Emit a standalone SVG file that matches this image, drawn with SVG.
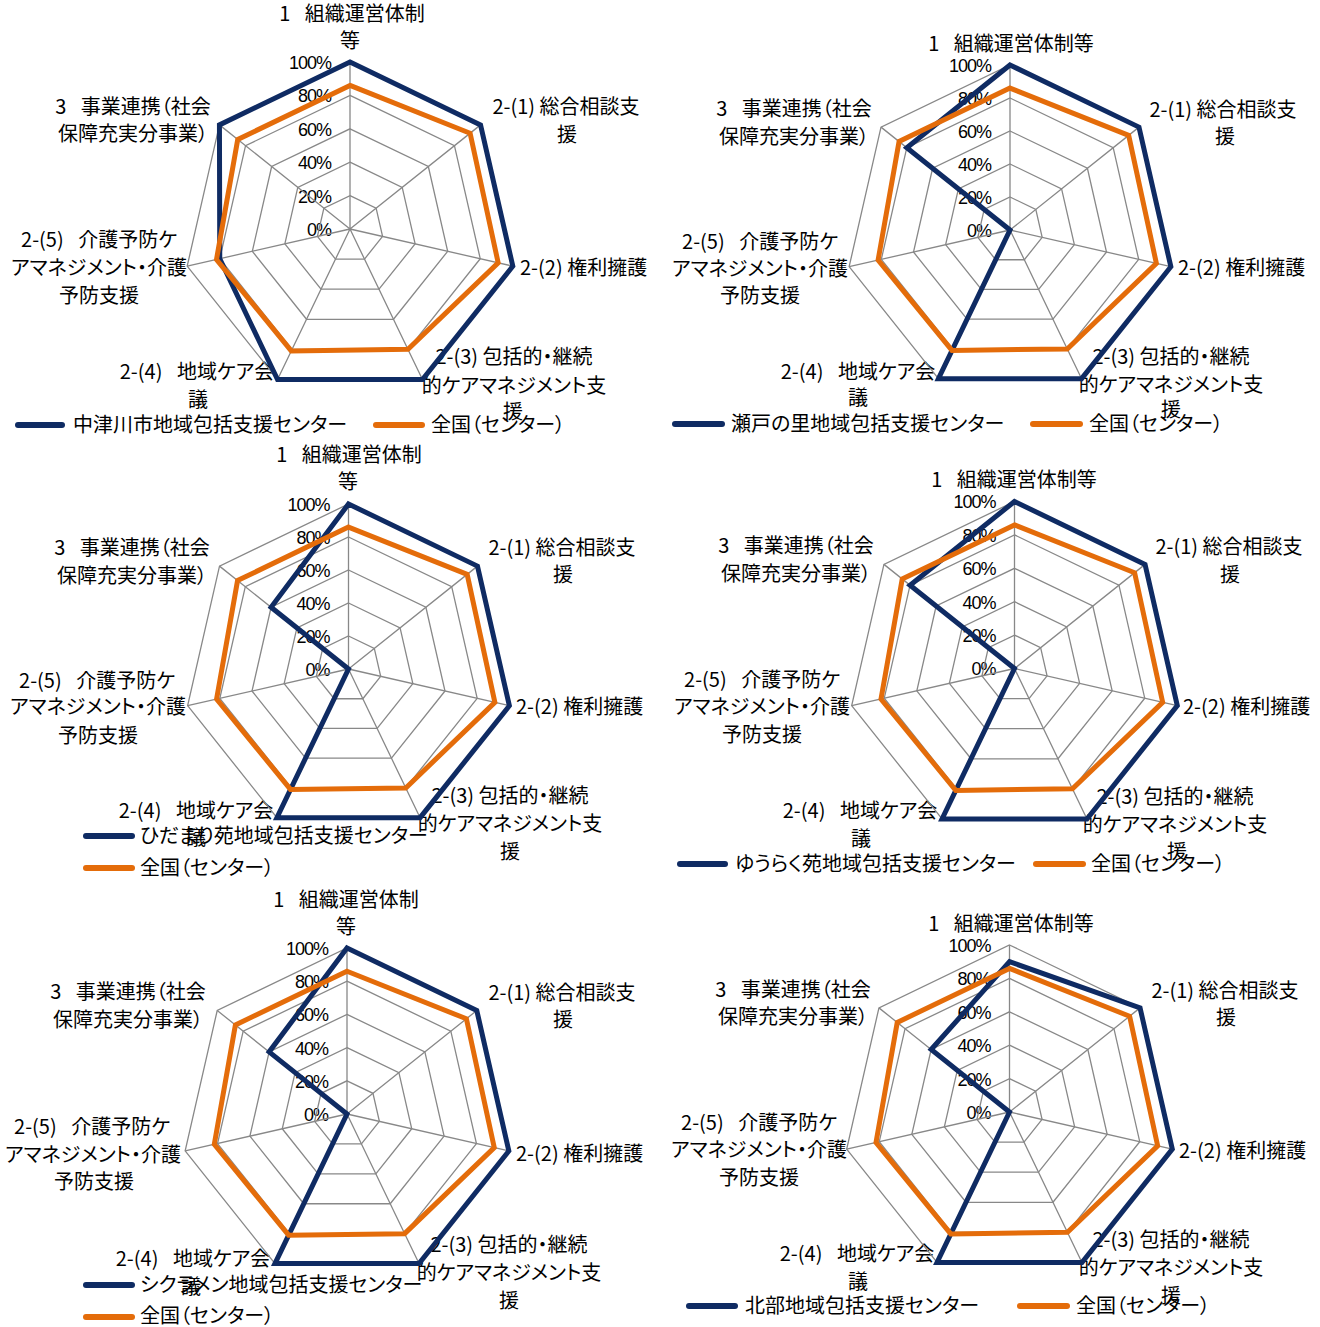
<svg xmlns="http://www.w3.org/2000/svg" xmlns:xlink="http://www.w3.org/1999/xlink" width="1320" height="1327" viewBox="0 0 1320 1327">
<style>
.lbl{font-family:"Noto Sans CJK JP","Noto Sans CJK SC",sans-serif;font-size:20px;fill:#000;font-feature-settings:"palt";text-anchor:middle}
.lg{font-family:"Noto Sans CJK JP","Noto Sans CJK SC",sans-serif;font-size:20px;fill:#000;font-feature-settings:"palt"}
.st{text-anchor:start}
.pct{font-family:"Liberation Sans",Arial,sans-serif;font-size:18px;fill:#000;text-anchor:end;letter-spacing:-1px}
.gl{fill:none;stroke:#888;stroke-width:1.3;vector-effect:non-scaling-stroke}
.s1{fill:none;stroke:#0f2b63;stroke-width:5;stroke-linejoin:miter;vector-effect:non-scaling-stroke}
.s2{fill:none;stroke:#e46c0a;stroke-width:5;stroke-linejoin:miter;vector-effect:non-scaling-stroke}
.ln1{stroke:#0f2b63;stroke-width:6;stroke-linecap:round}
.ln2{stroke:#e46c0a;stroke-width:6;stroke-linecap:round}
</style>
<defs>
<g id="grid">
<polygon class="gl" points="0,-100 78.18,-62.35 97.49,22.25 43.39,90.10 -43.39,90.10 -97.49,22.25 -78.18,-62.35"/>
<polygon class="gl" points="0,-80 62.54,-49.88 77.99,17.80 34.71,72.08 -34.71,72.08 -77.99,17.80 -62.54,-49.88"/>
<polygon class="gl" points="0,-60 46.91,-37.41 58.49,13.35 26.03,54.06 -26.03,54.06 -58.49,13.35 -46.91,-37.41"/>
<polygon class="gl" points="0,-40 31.27,-24.94 39.00,8.90 17.36,36.04 -17.36,36.04 -39.00,8.90 -31.27,-24.94"/>
<polygon class="gl" points="0,-20 15.64,-12.47 19.50,4.45 8.68,18.02 -8.68,18.02 -19.50,4.45 -15.64,-12.47"/>
<path class="gl" d="M0,0L0,-100M0,0L78.18,-62.35M0,0L97.49,22.25M0,0L43.39,90.10M0,0L-43.39,90.10M0,0L-97.49,22.25M0,0L-78.18,-62.35"/>
</g>
<polygon id="nat" class="s2" points="0,-86 71.93,-57.36 88.72,20.25 34.71,72.08 -35.15,72.98 -79.94,18.25 -67.23,-53.62"/>
</defs>

<!-- Chart 1 -->
<g id="chart1">
<g id="chart1-labels">
<text class="lbl" x="352" y="21">1 &#8194;組織運営体制</text>
<text class="lbl" x="350" y="48">等</text>
<text class="lbl" x="566" y="114">2-(1) 総合相談支</text>
<text class="lbl" x="567" y="142">援</text>
<text class="lbl st" x="520" y="275">2-(2) 権利擁護</text>
<text class="lbl" x="514" y="364">2-(3) 包括的・継続</text>
<text class="lbl" x="514" y="393">的ケアマネジメント支</text>
<text class="lbl" x="513" y="419">援</text>
<text class="lbl" x="197" y="379">2-(4) &#8194;地域ケア会</text>
<text class="lbl" x="198" y="407">議</text>
<text class="lbl" x="99" y="247">2-(5) &#8194;介護予防ケ</text>
<text class="lbl" x="99" y="275">アマネジメント・介護</text>
<text class="lbl" x="99" y="303">予防支援</text>
<text class="lbl" x="133" y="114">3 &#8194;事業連携（社会</text>
<text class="lbl" x="133" y="141">保障充実分事業）</text>
<text class="pct" x="331" y="69">100%</text>
<text class="pct" x="331" y="102">80%</text>
<text class="pct" x="331" y="136">60%</text>
<text class="pct" x="331" y="169">40%</text>
<text class="pct" x="331" y="203">20%</text>
<text class="pct" x="331" y="236">0%</text>
</g>
<g id="chart1-plot" transform="translate(350,229) scale(1.67)">
<use href="#grid"/>
<polygon class="s1" points="0,-100 78.18,-62.35 97.49,22.25 43.39,90.10 -43.39,90.10 -77.99,17.80 -78.18,-62.35"/>
<use href="#nat"/>
</g>
<g id="chart1-legend">
<line class="ln1" x1="18" y1="425" x2="62" y2="425"/>
<text class="lg" x="73" y="432">中津川市地域包括支援センター</text>
<line class="ln2" x1="376" y1="425" x2="422" y2="425"/>
<text class="lg" x="431" y="432">全国（センター）</text>
</g>
</g>

<!-- Chart 2 -->
<g id="chart2">
<g id="chart2-labels">
<text class="lbl" x="1011" y="51">1 &#8194;組織運営体制等</text>
<text class="lbl" x="1223" y="117">2-(1) 総合相談支</text>
<text class="lbl" x="1225" y="144">援</text>
<text class="lbl st" x="1178" y="275">2-(2) 権利擁護</text>
<text class="lbl" x="1171" y="364">2-(3) 包括的・継続</text>
<text class="lbl" x="1171" y="392">的ケアマネジメント支</text>
<text class="lbl" x="1171" y="417">援</text>
<text class="lbl" x="858" y="379">2-(4) &#8194;地域ケア会</text>
<text class="lbl" x="858" y="405">議</text>
<text class="lbl" x="760" y="249">2-(5) &#8194;介護予防ケ</text>
<text class="lbl" x="760" y="276">アマネジメント・介護</text>
<text class="lbl" x="760" y="303">予防支援</text>
<text class="lbl" x="794" y="116">3 &#8194;事業連携（社会</text>
<text class="lbl" x="794" y="144">保障充実分事業）</text>
<text class="pct" x="991" y="72">100%</text>
<text class="pct" x="991" y="105">80%</text>
<text class="pct" x="991" y="138">60%</text>
<text class="pct" x="991" y="171">40%</text>
<text class="pct" x="991" y="204">20%</text>
<text class="pct" x="991" y="237">0%</text>
</g>
<g id="chart2-plot" transform="translate(1010,230) scale(1.65)">
<use href="#grid"/>
<polygon class="s1" points="0,-100 78.18,-62.35 97.49,22.25 43.39,90.10 -43.39,90.10 0,0 -62.54,-49.88"/>
<use href="#nat"/>
</g>
<g id="chart2-legend">
<line class="ln1" x1="675" y1="424" x2="722" y2="424"/>
<text class="lg" x="731" y="431">瀬戸の里地域包括支援センター</text>
<line class="ln2" x1="1033" y1="424" x2="1080" y2="424"/>
<text class="lg" x="1089" y="431">全国（センター）</text>
</g>
</g>

<!-- Chart 3 -->
<g id="chart3">
<g id="chart3-labels">
<text class="lbl" x="349" y="462">1 &#8194;組織運営体制</text>
<text class="lbl" x="348" y="489">等</text>
<text class="lbl" x="562" y="555">2-(1) 総合相談支</text>
<text class="lbl" x="563" y="582">援</text>
<text class="lbl st" x="516" y="714">2-(2) 権利擁護</text>
<text class="lbl" x="510" y="803">2-(3) 包括的・継続</text>
<text class="lbl" x="510" y="831">的ケアマネジメント支</text>
<text class="lbl" x="510" y="859">援</text>
<text class="lbl" x="196" y="818">2-(4) &#8194;地域ケア会</text>
<text class="lbl" x="196" y="845">議</text>
<text class="lbl" x="97" y="688">2-(5) &#8194;介護予防ケ</text>
<text class="lbl" x="98" y="714">アマネジメント・介護</text>
<text class="lbl" x="98" y="743">予防支援</text>
<text class="lbl" x="132" y="555">3 &#8194;事業連携（社会</text>
<text class="lbl" x="132" y="583">保障充実分事業）</text>
<text class="pct" x="329.5" y="511">100%</text>
<text class="pct" x="329.5" y="544">80%</text>
<text class="pct" x="329.5" y="577">60%</text>
<text class="pct" x="329.5" y="610">40%</text>
<text class="pct" x="329.5" y="643">20%</text>
<text class="pct" x="329.5" y="676">0%</text>
</g>
<g id="chart3-plot" transform="translate(348.5,669) scale(1.65)">
<use href="#grid"/>
<polygon class="s1" points="0,-100 78.18,-62.35 97.49,22.25 43.39,90.10 -43.39,90.10 0,0 -46.91,-37.41"/>
<use href="#nat"/>
</g>
<g id="chart3-legend">
<line class="ln1" x1="86" y1="836" x2="132" y2="836"/>
<text class="lg" x="140" y="843">ひだまり苑地域包括支援センター</text>
<line class="ln2" x1="86" y1="868" x2="132" y2="868"/>
<text class="lg" x="140" y="875">全国（センター）</text>
</g>
</g>

<!-- Chart 4 -->
<g id="chart4">
<g id="chart4-labels">
<text class="lbl" x="1014" y="487">1 &#8194;組織運営体制等</text>
<text class="lbl" x="1229" y="554">2-(1) 総合相談支</text>
<text class="lbl" x="1230" y="582">援</text>
<text class="lbl st" x="1183" y="714">2-(2) 権利擁護</text>
<text class="lbl" x="1175" y="804">2-(3) 包括的・継続</text>
<text class="lbl" x="1175" y="832">的ケアマネジメント支</text>
<text class="lbl" x="1177" y="859">援</text>
<text class="lbl" x="860" y="818">2-(4) &#8194;地域ケア会</text>
<text class="lbl" x="861" y="846">議</text>
<text class="lbl" x="762" y="687">2-(5) &#8194;介護予防ケ</text>
<text class="lbl" x="762" y="714">アマネジメント・介護</text>
<text class="lbl" x="762" y="742">予防支援</text>
<text class="lbl" x="796" y="553">3 &#8194;事業連携（社会</text>
<text class="lbl" x="796" y="581">保障充実分事業）</text>
<text class="pct" x="995.5" y="508">100%</text>
<text class="pct" x="995.5" y="542">80%</text>
<text class="pct" x="995.5" y="575">60%</text>
<text class="pct" x="995.5" y="609">40%</text>
<text class="pct" x="995.5" y="642">20%</text>
<text class="pct" x="995.5" y="675">0%</text>
</g>
<g id="chart4-plot" transform="translate(1014.5,668.5) scale(1.67)">
<use href="#grid"/>
<polygon class="s1" points="0,-100 78.18,-62.35 97.49,22.25 43.39,90.10 -43.39,90.10 0,0 -62.54,-49.88"/>
<use href="#nat"/>
</g>
<g id="chart4-legend">
<line class="ln1" x1="680" y1="864" x2="725" y2="864"/>
<text class="lg" x="735" y="871">ゆうらく苑地域包括支援センター</text>
<line class="ln2" x1="1036" y1="864" x2="1083" y2="864"/>
<text class="lg" x="1091" y="871">全国（センター）</text>
</g>
</g>

<!-- Chart 5 -->
<g id="chart5">
<g id="chart5-labels">
<text class="lbl" x="346" y="907">1 &#8194;組織運営体制</text>
<text class="lbl" x="346" y="934">等</text>
<text class="lbl" x="562" y="1000">2-(1) 総合相談支</text>
<text class="lbl" x="563" y="1027">援</text>
<text class="lbl st" x="516" y="1161">2-(2) 権利擁護</text>
<text class="lbl" x="509" y="1252">2-(3) 包括的・継続</text>
<text class="lbl" x="509" y="1280">的ケアマネジメント支</text>
<text class="lbl" x="509" y="1308">援</text>
<text class="lbl" x="193" y="1266">2-(4) &#8194;地域ケア会</text>
<text class="lbl" x="191" y="1294">議</text>
<text class="lbl" x="92" y="1134">2-(5) &#8194;介護予防ケ</text>
<text class="lbl" x="93" y="1162">アマネジメント・介護</text>
<text class="lbl" x="94" y="1189">予防支援</text>
<text class="lbl" x="128" y="999">3 &#8194;事業連携（社会</text>
<text class="lbl" x="128" y="1027">保障充実分事業）</text>
<text class="pct" x="328" y="955">100%</text>
<text class="pct" x="328" y="988">80%</text>
<text class="pct" x="328" y="1021">60%</text>
<text class="pct" x="328" y="1055">40%</text>
<text class="pct" x="328" y="1088">20%</text>
<text class="pct" x="328" y="1121">0%</text>
</g>
<g id="chart5-plot" transform="translate(347,1114) scale(1.66)">
<use href="#grid"/>
<polygon class="s1" points="0,-100 78.18,-62.35 97.49,22.25 43.39,90.10 -43.39,90.10 0,0 -46.91,-37.41"/>
<use href="#nat"/>
</g>
<g id="chart5-legend">
<line class="ln1" x1="86" y1="1285" x2="132" y2="1285"/>
<text class="lg" x="140" y="1292">シクラメン地域包括支援センター</text>
<line class="ln2" x1="86" y1="1317" x2="132" y2="1317"/>
<text class="lg" x="140" y="1323">全国（センター）</text>
</g>
</g>

<!-- Chart 6 -->
<g id="chart6">
<g id="chart6-labels">
<text class="lbl" x="1011" y="931">1 &#8194;組織運営体制等</text>
<text class="lbl" x="1225" y="998">2-(1) 総合相談支</text>
<text class="lbl" x="1226" y="1025">援</text>
<text class="lbl st" x="1179" y="1158">2-(2) 権利擁護</text>
<text class="lbl" x="1171" y="1247">2-(3) 包括的・継続</text>
<text class="lbl" x="1171" y="1275">的ケアマネジメント支</text>
<text class="lbl" x="1171" y="1303">援</text>
<text class="lbl" x="857" y="1261">2-(4) &#8194;地域ケア会</text>
<text class="lbl" x="858" y="1289">議</text>
<text class="lbl" x="759" y="1130">2-(5) &#8194;介護予防ケ</text>
<text class="lbl" x="759" y="1157">アマネジメント・介護</text>
<text class="lbl" x="759" y="1185">予防支援</text>
<text class="lbl" x="793" y="997">3 &#8194;事業連携（社会</text>
<text class="lbl" x="793" y="1024">保障充実分事業）</text>
<text class="pct" x="990.5" y="952">100%</text>
<text class="pct" x="990.5" y="985">80%</text>
<text class="pct" x="990.5" y="1019">60%</text>
<text class="pct" x="990.5" y="1052">40%</text>
<text class="pct" x="990.5" y="1086">20%</text>
<text class="pct" x="990.5" y="1119">0%</text>
</g>
<g id="chart6-plot" transform="translate(1009.5,1112) scale(1.67)">
<use href="#grid"/>
<polygon class="s1" points="0,-90 78.18,-62.35 97.49,22.25 43.39,90.10 -43.39,90.10 0,0 -46.91,-37.41"/>
<use href="#nat"/>
</g>
<g id="chart6-legend">
<line class="ln1" x1="689" y1="1306" x2="735" y2="1306"/>
<text class="lg" x="745" y="1313">北部地域包括支援センター</text>
<line class="ln2" x1="1020" y1="1306" x2="1067" y2="1306"/>
<text class="lg" x="1076" y="1313">全国（センター）</text>
</g>
</g>
</svg>
